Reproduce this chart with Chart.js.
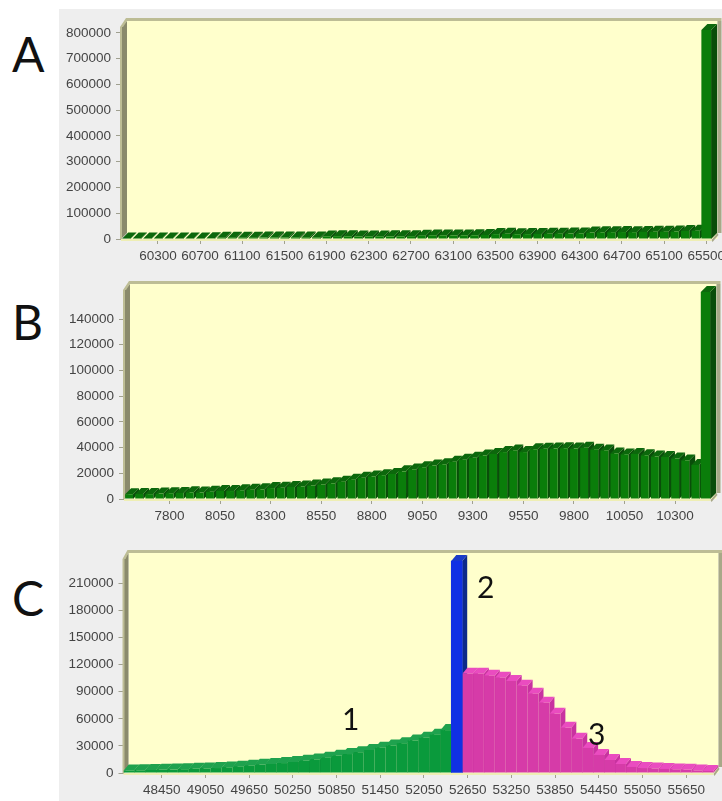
<!DOCTYPE html>
<html>
<head>
<meta charset="utf-8">
<title>Histogram panels</title>
<script src="https://cdn.jsdelivr.net/npm/chart.js@4/dist/chart.umd.min.js"></script>
<style>
    html, body { margin: 0; padding: 0; background: #ffffff; overflow: hidden; }
    #page { position: relative; width: 722px; height: 801px; overflow: hidden; }
    #panel { position: absolute; left: 59px; top: 9px; width: 663px; height: 792px; background: #eeeeee; }
    canvas { position: absolute; left: 59px; }
    .mark { position: absolute; font-family: Lato, sans-serif; color: #111111; line-height: 1; }
    .big { font-size: 48px; }
    .small { font-size: 30px; }
</style>
</head>
<body>
<div id="page">
    <div id="panel"></div>
    <canvas id="chartA" width="703" height="260" style="top:10px"></canvas>
    <canvas id="chartB" width="703" height="260" style="top:270px"></canvas>
    <canvas id="chartC" width="703" height="271" style="top:530px"></canvas>
    <div class="mark big" style="left:12px;top:30px">A</div>
    <div class="mark big" style="left:12px;top:298px">B</div>
    <div class="mark big" style="left:12px;top:574px">C</div>
    <div class="mark small" style="left:342px;top:703px">1</div>
    <div class="mark small" style="left:477px;top:571px">2</div>
    <div class="mark small" style="left:588px;top:718px">3</div>
</div>

<script>
// Categories
const binsA = [];
for (let v = 60000; v <= 65500; v += 100) binsA.push(String(v));
const binsB = [];
for (let v = 7600; v <= 10450; v += 50) binsB.push(String(v));
const binsC = [];
for (let v = 48000; v <= 55950; v += 150) binsC.push(String(v));

// Tick labels
const xTicksA = ['60300', '60700', '61100', '61500', '61900', '62300', '62700', '63100', '63500', '63900', '64300', '64700', '65100', '65500'];
const xTicksB = ['7800', '8050', '8300', '8550', '8800', '9050', '9300', '9550', '9800', '10050', '10300'];
const xTicksC = ['48450', '49050', '49650', '50250', '50850', '51450', '52050', '52650', '53250', '53850', '54450', '55050', '55650'];
const yTicksA = [0, 100000, 200000, 300000, 400000, 500000, 600000, 700000, 800000];
const yTicksB = [0, 20000, 40000, 60000, 80000, 100000, 120000, 140000];
const yTicksC = [0, 30000, 60000, 90000, 120000, 150000, 180000, 210000];

// Series values
const valuesA = [
    1500, 1800, 1600, 1700, 2000, 1800, 2200, 2400, 3000, 4500,
    5000, 4600, 5200, 5400, 5800, 5600, 6000, 6200, 6000, 10000,
    11000, 10500, 9500, 9800, 10000, 10200, 10400, 11000, 13000, 14000,
    13800, 13500, 13800, 14500, 15500, 19000, 20000, 18500, 19000, 19500,
    20000, 20500, 21000, 21500, 25000, 26000, 26500, 27000, 26500, 27500,
    28000, 28500, 29000, 31000, 32000
];
const peakA = [811000];
const valuesB = [
    3700, 3900, 3800, 4200, 4500, 4700, 5200, 5000, 5600, 6300,
    6200, 6800, 7200, 7500, 8500, 8700, 9400, 9700, 10500, 11300,
    12200, 13500, 15000, 16500, 17500, 18500, 19500, 21500, 23000, 24700,
    26000, 27000, 29000, 30500, 32000, 33800, 35000, 36500, 37800, 36500,
    38700, 39000, 39200, 39500, 39200, 39900, 38400, 37800, 35400, 34700,
    35000, 34000, 33000, 32700, 31500, 30000, 26500
];
const peakB = [161000];
const valuesC1 = [
    2800, 3000, 3300, 3500, 3800, 4200, 4600, 5000, 5500, 6200,
    7000, 8000, 9000, 10000, 11000, 12200, 13500, 15000, 17000, 19000,
    21000, 23000, 25500, 28000, 30500, 33000, 36000, 39000, 42500, 47500
];
const valuesC2 = [234800];
const valuesC3 = [
    110000, 110000, 107800, 105500, 102000, 96700, 87800, 77800, 65500, 50000,
    37800, 27800, 20000, 14400, 10000, 6700, 5500, 5000, 4500, 4000,
    3500, 2800, 2200
];

// Pad a segment out so that it lines up with the shared category axis
function placeSeries(values, start, total) {
    const out = new Array(total).fill(null);
    values.forEach((v, i) => { out[start + i] = v; });
    return out;
}

const GREEN = { front: '#0a7d0a', top: '#0c680c', side: '#0a4d0a' };
const LIGHT_GREEN = { front: '#0a9a3c', top: '#1fa24e', side: '#0a8a36' };
const BLUE = { front: '#1030e4', top: '#1a3cc8', side: '#0d2a8a' };
const PINK = { front: '#d63ba8', top: '#ea4cc0', side: '#c832a0' };

// Draws the 3D box behind the bars and the top and side faces of the bars
const boxPlugin = {
    id: 'box',
    beforeDatasetsDraw(chart, args, opts) {
        const ctx = chart.ctx;
        const area = chart.chartArea;
        const dx = opts.dx;
        const dy = opts.dy;
        const base = chart.scales.y.getPixelForValue(0);
        const top = opts.frameTop;
        const right = area.right;

        ctx.save();
        // back wall and floor
        ctx.fillStyle = '#ffffcc';
        ctx.fillRect(area.left + dx, top, right - area.left, base - top);

        // left wall
        ctx.fillStyle = '#8a8a6c';
        ctx.beginPath();
        ctx.moveTo(area.left, top + dy);
        ctx.lineTo(area.left + dx, top);
        ctx.lineTo(area.left + dx, base - dy);
        ctx.lineTo(area.left, base);
        ctx.closePath();
        ctx.fill();

        // top edge, right edge and front lip
        ctx.fillStyle = '#bdbd95';
        ctx.beginPath();
        ctx.moveTo(area.left - 1, top + dy);
        ctx.lineTo(area.left + dx - 1, top - 3);
        ctx.lineTo(right + dx + 4, top - 3);
        ctx.lineTo(right + dx + 4, top);
        ctx.lineTo(area.left + dx, top);
        ctx.lineTo(area.left + 2, top + dy);
        ctx.closePath();
        ctx.fill();
        ctx.fillRect(area.left - 1, top + dy, 2, base - top - dy);
        ctx.fillStyle = '#a8a888';
        ctx.fillRect(right + dx, top, 4, base - dy - top);
        ctx.beginPath();
        ctx.moveTo(right, base + 1);
        ctx.lineTo(right + dx, base - dy);
        ctx.lineTo(right + dx + 1, base - dy + 2);
        ctx.lineTo(right + 1, base + 3);
        ctx.closePath();
        ctx.fill();
        ctx.fillStyle = '#eeeeb4';
        ctx.fillRect(area.left, base, right - area.left, 2);

        // bar depth, left to right so the next front face covers the side
        chart.data.datasets.forEach((dataset, d) => {
            const meta = chart.getDatasetMeta(d);
            meta.data.forEach((bar, i) => {
                if (dataset.data[i] === null) return;
                const half = bar.width / 2;
                const l = bar.x - half;
                const r = bar.x + half;
                ctx.fillStyle = dataset.faces.side;
                ctx.beginPath();
                ctx.moveTo(r, bar.y);
                ctx.lineTo(r + dx, bar.y - dy);
                ctx.lineTo(r + dx, base - dy);
                ctx.lineTo(r, base);
                ctx.closePath();
                ctx.fill();
                ctx.fillStyle = dataset.faces.top;
                ctx.beginPath();
                ctx.moveTo(l, bar.y);
                ctx.lineTo(l + dx, bar.y - dy);
                ctx.lineTo(r + dx, bar.y - dy);
                ctx.lineTo(r, bar.y);
                ctx.closePath();
                ctx.fill();
            });
        });
        ctx.restore();
    }
};

function makeChart(id, opts) {
    const canvas = document.getElementById(id);
    return new Chart(canvas, {
        type: 'bar',
        plugins: [boxPlugin],
        data: {
            labels: opts.labels,
            datasets: opts.series.map(s => ({
                data: s.data,
                faces: s.faces,
                backgroundColor: s.faces.front,
                borderWidth: 0,
                barPercentage: s.percent,
                categoryPercentage: 1
            }))
        },
        options: {
            responsive: false,
            animation: false,
            clip: false,
            layout: {
                padding: {
                    left: 0,
                    right: 59 + canvas.width - opts.right,
                    top: opts.areaTop,
                    bottom: canvas.height - opts.areaBottom - 32
                }
            },
            plugins: {
                legend: { display: false },
                tooltip: { enabled: false },
                box: { dx: opts.dx, dy: opts.dy, frameTop: opts.frameTop }
            },
            scales: {
                x: {
                    stacked: true,
                    grid: { offset: false, drawOnChartArea: false, tickColor: '#a0a090', tickLength: 5 },
                    border: { display: false },
                    afterFit(scale) { scale.height = 32; },
                    afterBuildTicks(scale) {
                        scale.ticks = scale.ticks.filter(t => opts.xTicks.includes(opts.labels[t.value]));
                    },
                    ticks: {
                        autoSkip: false,
                        maxRotation: 0,
                        padding: 4,
                        color: '#444444',
                        font: { family: '"Liberation Sans"', size: 13.5 }
                    }
                },
                y: {
                    min: 0,
                    max: opts.yMax,
                    grid: { drawOnChartArea: false, tickColor: '#a0a090', tickLength: 5 },
                    border: { display: false },
                    afterFit(scale) { scale.width = opts.left - 59; },
                    afterBuildTicks(scale) {
                        scale.ticks = opts.yTicks.map(v => ({ value: v }));
                    },
                    ticks: {
                        padding: 5,
                        color: '#444444',
                        font: { family: '"Liberation Sans"', size: 13.5 },
                        callback: v => String(v)
                    }
                }
            }
        }
    });
}

makeChart('chartA', {
    labels: binsA, xTicks: xTicksA, yTicks: yTicksA, yMax: 811000,
    series: [
        { data: placeSeries(valuesA, 0, binsA.length), faces: GREEN, percent: 0.78 },
        { data: placeSeries(peakA, 55, binsA.length), faces: GREEN, percent: 0.92 }
    ],
    dx: 6, dy: 6,
    left: 121, right: 711.5, areaTop: 20, areaBottom: 229, frameTop: 11
});

makeChart('chartB', {
    labels: binsB, xTicks: xTicksB, yTicks: yTicksB, yMax: 161000,
    series: [
        { data: placeSeries(valuesB, 0, binsB.length), faces: GREEN, percent: 0.78 },
        { data: placeSeries(peakB, 57, binsB.length), faces: GREEN, percent: 0.92 }
    ],
    dx: 6, dy: 6,
    left: 124, right: 710.5, areaTop: 22, areaBottom: 229, frameTop: 14
});

makeChart('chartC', {
    labels: binsC, xTicks: xTicksC, yTicks: yTicksC, yMax: 234800,
    series: [
        { data: placeSeries(valuesC1, 0, binsC.length), faces: LIGHT_GREEN, percent: 0.96 },
        { data: placeSeries(valuesC2, 30, binsC.length), faces: BLUE, percent: 1 },
        { data: placeSeries(valuesC3, 31, binsC.length), faces: PINK, percent: 0.97 }
    ],
    dx: 5, dy: 6,
    left: 123.5, right: 713.5, areaTop: 31, areaBottom: 243, frameTop: 23
});
</script>
</body>
</html>
